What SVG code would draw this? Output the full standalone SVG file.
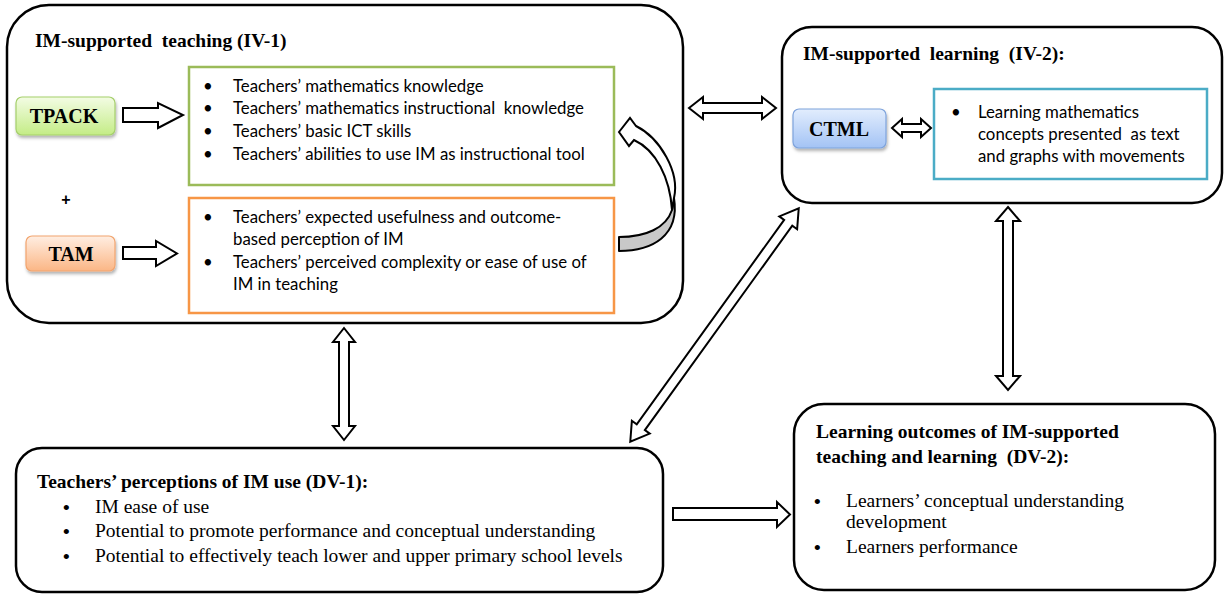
<svg xmlns="http://www.w3.org/2000/svg" width="1225" height="598" viewBox="0 0 1225 598">
  <defs>
    <linearGradient id="gGreen" x1="0" y1="0" x2="0" y2="1">
      <stop offset="0" stop-color="#f3fce4"/>
      <stop offset="1" stop-color="#c4ec86"/>
    </linearGradient>
    <linearGradient id="gOrange" x1="0" y1="0" x2="0" y2="1">
      <stop offset="0" stop-color="#ffeee2"/>
      <stop offset="1" stop-color="#fbb685"/>
    </linearGradient>
    <linearGradient id="gBlue" x1="0" y1="0" x2="0" y2="1">
      <stop offset="0" stop-color="#e2edfd"/>
      <stop offset="1" stop-color="#a3c3f5"/>
    </linearGradient>
    <filter id="shadow" x="-20%" y="-20%" width="140%" height="150%">
      <feDropShadow dx="1" dy="2.5" stdDeviation="1.5" flood-color="#000" flood-opacity="0.3"/>
    </filter>
  </defs>
  <style>
    text { white-space: pre; }
    .frame { fill: #fff; stroke: #000; stroke-width: 2.5; }
    .title { font-family: "Liberation Serif", serif; font-weight: bold; font-size: 19.5px; fill: #000; }
    .serif { font-family: "Liberation Serif", serif; font-size: 19.5px; fill: #000; }
    .dot { font-family: "Liberation Sans", sans-serif; font-size: 19px; fill: #000; }
    .sans { font-family: Lato, "Liberation Sans", sans-serif; font-size: 16.8px; fill: #000; }
    .btn { font-family: "Liberation Serif", serif; font-weight: bold; font-size: 20px; fill: #000; text-anchor: middle; }
    .blk { fill: #fff; stroke: #000; stroke-width: 2; stroke-linejoin: miter; }
  </style>

  <rect width="1225" height="598" fill="#fff"/>

  <!-- IV-1: IM-supported teaching -->
  <g id="iv1">
    <rect class="frame" x="7" y="5" width="676" height="318" rx="42" ry="42"/>
    <text class="title" x="35" y="47">IM-supported  teaching (IV-1)</text>
  </g>

  <g id="tpack">
    <rect x="16" y="97" width="99" height="38" rx="6" fill="url(#gGreen)" stroke="#a5cf6b" stroke-width="1.2" filter="url(#shadow)"/>
    <text class="btn" x="64" y="123">TPACK</text>
  </g>

  <g id="tam">
    <rect x="26" y="236" width="89" height="35" rx="6" fill="url(#gOrange)" stroke="#f2a46e" stroke-width="1.2" filter="url(#shadow)"/>
    <text class="btn" x="71" y="261">TAM</text>
  </g>

  <g id="plus">
    <text x="66" y="205" font-family="Liberation Sans, sans-serif" font-weight="bold" font-size="16" text-anchor="middle">+</text>
  </g>

  <g id="knowledge">
    <rect x="189" y="67" width="425" height="118" fill="#fff" stroke="#9bbb59" stroke-width="2.5"/>
    <g class="sans">
      <text x="203" y="92">•</text><text x="233" y="92">Teachers’ mathematics knowledge</text>
      <text x="203" y="114">•</text><text x="233" y="114">Teachers’ mathematics instructional  knowledge</text>
      <text x="203" y="137">•</text><text x="233" y="137">Teachers’ basic ICT skills</text>
      <text x="203" y="160">•</text><text x="233" y="160">Teachers’ abilities to use IM as instructional tool</text>
    </g>
  </g>

  <g id="acceptance">
    <rect x="189" y="198" width="425" height="115" fill="#fff" stroke="#f79646" stroke-width="2.5"/>
    <g class="sans">
      <text x="203" y="223">•</text><text x="233" y="223">Teachers’ expected usefulness and outcome-</text>
      <text x="233" y="245">based perception of IM</text>
      <text x="203" y="268">•</text><text x="233" y="268">Teachers’ perceived complexity or ease of use of</text>
      <text x="233" y="290">IM in teaching</text>
    </g>
  </g>

  <!-- IV-2: IM-supported learning -->
  <g id="iv2">
    <rect class="frame" x="782" y="27" width="440" height="176" rx="30" ry="30"/>
    <text class="title" x="803" y="60">IM-supported  learning  (IV-2):</text>
  </g>

  <g id="ctml">
    <rect x="793" y="109" width="93" height="39" rx="6" fill="url(#gBlue)" stroke="#7ea3dc" stroke-width="1.2" filter="url(#shadow)"/>
    <text class="btn" x="839" y="136">CTML</text>
  </g>

  <g id="presentation">
    <rect x="934" y="89" width="273" height="90" fill="#fff" stroke="#4bacc6" stroke-width="2.5"/>
    <g class="sans">
      <text x="951" y="118">•</text><text x="978" y="118">Learning mathematics</text>
      <text x="978" y="140">concepts presented  as text</text>
      <text x="978" y="162">and graphs with movements</text>
    </g>
  </g>

  <!-- DV-1: perceptions -->
  <g id="dv1">
    <rect class="frame" x="16" y="448" width="647" height="144" rx="26" ry="26"/>
    <text class="title" x="37" y="488">Teachers’ perceptions of IM use (DV-1):</text>
    <text class="dot" x="63" y="514">•</text>
    <text class="dot" x="63" y="538">•</text>
    <text class="dot" x="63" y="563">•</text>
    <g class="serif">
      <text x="95" y="513">IM ease of use</text>
      <text x="95" y="537">Potential to promote performance and conceptual understanding</text>
      <text x="95" y="562">Potential to effectively teach lower and upper primary school levels</text>
    </g>
  </g>

  <!-- DV-2: learning outcomes -->
  <g id="dv2">
    <rect class="frame" x="794" y="404" width="421" height="186" rx="30" ry="30"/>
    <text class="title" x="816" y="438">Learning outcomes of IM-supported</text>
    <text class="title" x="816" y="463">teaching and learning  (DV-2):</text>
    <text class="dot" x="814" y="508">•</text>
    <text class="dot" x="814" y="554">•</text>
    <g class="serif">
      <text x="846" y="507">Learners’ conceptual understanding</text>
      <text x="846" y="528">development</text>
      <text x="846" y="553">Learners performance</text>
    </g>
  </g>

  <!-- block-arrow connectors -->
  <g id="connectors">
    <!-- TPACK to knowledge -->
    <path class="blk" d="M123,108 L158,108 L158,103 L183,115 L158,128 L158,122 L123,122 Z"/>
    <!-- TAM to acceptance -->
    <path class="blk" d="M123,247 L156,247 L156,241 L177,253.5 L156,266 L156,259 L123,259 Z"/>
    <!-- acceptance feeds back into knowledge (curved arrow) -->
    <path d="M672,210 C666,228 646,237 619,237 L619,251 C652,251 680,236 674,198 Z" fill="#c8c8c8" stroke="#000" stroke-width="2" stroke-linejoin="round"/>
    <path d="M619,132 L630,118 L636,126 C660,138 680,172 674,198 L672,210 C670,178 656,150 634,140 L629,146 Z" fill="#fff" stroke="#000" stroke-width="2" stroke-linejoin="miter"/>
    <!-- IV-1 and IV-2 -->
    <path class="blk" d="M689,108 L703,97 L703,103 L762,103 L762,97 L776,108 L762,119 L762,113 L703,113 L703,119 Z"/>
    <!-- CTML and presentation -->
    <path class="blk" d="M892,128 L902,119 L902,124 L921,124 L921,119 L931,128 L921,137 L921,132 L902,132 L902,137 Z"/>
    <!-- IV-2 and DV-2 -->
    <path class="blk" d="M1008,207 L1020,221 L1013,221 L1013,376 L1020,376 L1008,390 L996,376 L1003,376 L1003,221 L996,221 Z"/>
    <!-- IV-1 and DV-1 -->
    <path class="blk" d="M344,328 L355,342 L349,342 L349,426 L355,426 L344,440 L333,426 L339,426 L339,342 L333,342 Z"/>
    <!-- DV-1 and IV-2 (diagonal) -->
    <g transform="translate(714.5,325) rotate(-54.2)">
      <path class="blk" d="M-144,0 L-126,-11 L-126,-5 L126,-5 L126,-11 L144,0 L126,11 L126,5 L-126,5 L-126,11 Z"/>
    </g>
    <!-- DV-1 to DV-2 -->
    <path class="blk" d="M673,508 L777,508 L777,502 L790,514.5 L777,527 L777,520 L673,520 Z"/>
  </g>
</svg>
